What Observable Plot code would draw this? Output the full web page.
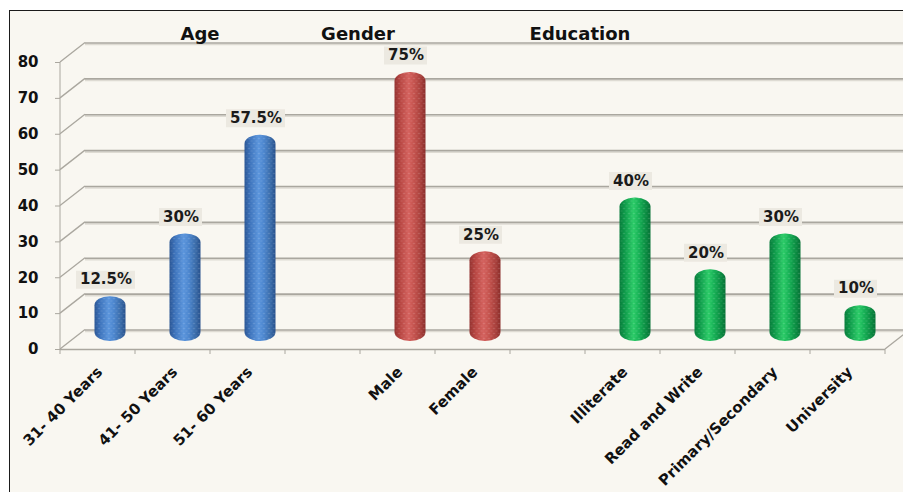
<!DOCTYPE html>
<html><head><meta charset="utf-8">
<script src="https://cdn.jsdelivr.net/npm/d3@7"></script>
<script src="https://cdn.jsdelivr.net/npm/@observablehq/plot@0.6"></script>
<style>
html,body{margin:0;padding:0;background:#fff;width:903px;height:492px;overflow:hidden;}
#frame{position:absolute;left:9px;top:10px;width:1000px;height:600px;border-top:1.6px solid #1b1b1b;border-left:1.6px solid #1b1b1b;background:#f9f7f1;}
#chart{position:absolute;left:0;top:0;}
</style></head><body>
<div id="frame"></div><div id="chart"></div>
<script>
// ---- data ----
const ageCats = ["31- 40 Years", "41- 50 Years", "51- 60 Years"];
const ageVals = [12.5, 30, 57.5];
const genderCats = ["Male", "Female"];
const genderVals = [75, 25];
const eduCats = ["Illiterate", "Read and Write", "Primary/Secondary", "University"];
const eduVals = [40, 20, 30, 10];
const groupNames = ["Age", "Gender", "Education"];
const yTicks = [0, 10, 20, 30, 40, 50, 60, 70, 80];

const gaps = ["__gap1", "__gap2"];
const domain = [...ageCats, gaps[0], ...genderCats, gaps[1], ...eduCats];
const rows = [
  ...ageCats.map((c, i) => ({group: "Age", label: c, value: ageVals[i]})),
  ...genderCats.map((c, i) => ({group: "Gender", label: c, value: genderVals[i]})),
  ...eduCats.map((c, i) => ({group: "Education", label: c, value: eduVals[i]}))
];
const gradId = {Age: "gBlue", Gender: "gRed", Education: "gGreen"};

// ---- layout ----
const W = 903, H = 492, mL = 60, mR = 18, mT = 62, mB = 143;
const DX = 25, DY = -19.5;       // depth offset (front -> back wall)
const BX = 12.5, BY = -8;        // bars sit mid-depth
const grid = "#aaa79f";
const font = "DejaVu Sans";

function decor(index, scales, values, dims) {
  const y = scales.y;
  const l = dims.marginLeft, r = dims.width - dims.marginRight;
  const n = domain.length, step = (r - l) / n;
  const ns = "http://www.w3.org/2000/svg";
  const g = document.createElementNS(ns, "g");
  g.setAttribute("stroke", grid);
  g.setAttribute("fill", "none");
  const line = (x1, y1, x2, y2, w = 1.3) => {
    const e = document.createElementNS(ns, "line");
    e.setAttribute("x1", x1); e.setAttribute("y1", y1);
    e.setAttribute("x2", x2); e.setAttribute("y2", y2);
    e.setAttribute("stroke-width", w);
    g.appendChild(e);
  };
  yTicks.forEach(v => line(l, y(v), l + DX, y(v) + DY));
  line(l, y(0), l, y(yTicks[yTicks.length - 1]), 1);
  line(r, y(0), r + DX, y(0) + DY);
  for (let i = 0; i <= n; i++) line(l + i * step, y(0), l + i * step, y(0) + 5, 1);
  return g;
}

const barOpts = (grp) => ({
  filter: d => d.group === grp, x: "label", y: "value",
  dx: BX, dy: BY, rx: 15, ry: 9, fill: `url(#${gradId[grp]})`
});

const labelTxt = d => d.value + "%";
const longLab = d => String(d.value).length > 2;

const chart = Plot.plot({
  width: W, height: H,
  marginLeft: mL, marginRight: mR, marginTop: mT, marginBottom: mB,
  style: {background: "transparent", fontFamily: font, overflow: "visible"},
  x: {type: "band", domain, paddingInner: 0.587, paddingOuter: 0.2935, align: 0.5, label: null},
  y: {domain: [0, 80], label: null},
  marks: [
    Plot.ruleY(yTicks, {dx: DX, dy: DY + 1.5, stroke: "#dedbd3", strokeWidth: 1.5}),
    Plot.ruleY(yTicks, {dx: DX, dy: DY, stroke: grid, strokeWidth: 1.6}),
    decor,
    Plot.ruleY([0], {stroke: grid, strokeWidth: 1.3}),
    ...groupNames.map(gname => Plot.barY(rows, barOpts(gname))),
    Plot.barY(rows, {x: "label", y: "value", dx: BX, dy: BY, rx: 15, ry: 9, fill: "url(#dots)"}),
    Plot.tickY(rows, {filter: d => !longLab(d), x: "label", y: "value", dx: 8, dy: -25,
      stroke: "#ece9e1", strokeWidth: 18, insetLeft: -6, insetRight: -6}),
    Plot.tickY(rows, {filter: longLab, x: "label", y: "value", dx: 8, dy: -25,
      stroke: "#ece9e1", strokeWidth: 18, insetLeft: -14, insetRight: -14}),
    Plot.text(rows, {x: "label", y: "value", text: labelTxt, dx: 8, dy: -25,
      fontSize: 15, fontWeight: "bold", fill: "#1a1a1a"}),
    Plot.axisY({ticks: yTicks, tickSize: 5, tickPadding: 17, fontSize: 15, fontWeight: "bold",
      stroke: grid, fill: "#111", label: null}),
    Plot.axisX({tickSize: 0, tickRotate: -45, tickPadding: 20, dx: 2, fontSize: 15, fontWeight: "bold",
      fill: "#111", label: null, tickFormat: d => gaps.includes(d) ? "" : d}),
    Plot.text([groupNames[0]], {x: () => ageCats[1], frameAnchor: "top", text: d => d,
      dx: 27, dy: -35, fontSize: 18, fontWeight: "bold", fill: "#111"}),
    Plot.text([groupNames[1]], {x: () => genderCats[0], frameAnchor: "top", text: d => d,
      dx: -40, dy: -35, fontSize: 18, fontWeight: "bold", fill: "#111"}),
    Plot.text([groupNames[2]], {x: () => eduCats[0], frameAnchor: "top", text: d => d,
      dx: -43, dy: -35, fontSize: 18, fontWeight: "bold", fill: "#111"})
  ]
});

// gradients & texture for cylinder look
const defs = d3.create("svg:defs");
const mkGrad = (id, stops) => {
  const lg = defs.append("linearGradient").attr("id", id).attr("x1", "0").attr("x2", "1").attr("y1", "0").attr("y2", "0");
  stops.forEach(([o, c]) => lg.append("stop").attr("offset", o).attr("stop-color", c));
};
mkGrad("gBlue", [[0, "#2a5594"], [0.18, "#3e74bc"], [0.45, "#5b95dc"], [0.62, "#4d87cf"], [0.85, "#3a6ba8"], [1, "#27508c"]]);
mkGrad("gRed", [[0, "#933230"], [0.18, "#b74642"], [0.45, "#d4625e"], [0.62, "#c6544f"], [0.85, "#a8403c"], [1, "#8a2d2a"]]);
mkGrad("gGreen", [[0, "#077c3b"], [0.18, "#0f9c4b"], [0.45, "#2ccb68"], [0.62, "#18b357"], [0.85, "#0b8c42"], [1, "#067236"]]);
const pat = defs.append("pattern").attr("id", "dots").attr("width", 5).attr("height", 5).attr("patternUnits", "userSpaceOnUse");
pat.append("circle").attr("cx", 1.5).attr("cy", 1.5).attr("r", 0.8).attr("fill", "#ffffff").attr("fill-opacity", 0.2);
pat.append("circle").attr("cx", 4).attr("cy", 4).attr("r", 0.8).attr("fill", "#ffffff").attr("fill-opacity", 0.12);
chart.insertBefore(defs.node(), chart.firstChild);

document.getElementById("chart").appendChild(chart);
</script>
</body></html>
